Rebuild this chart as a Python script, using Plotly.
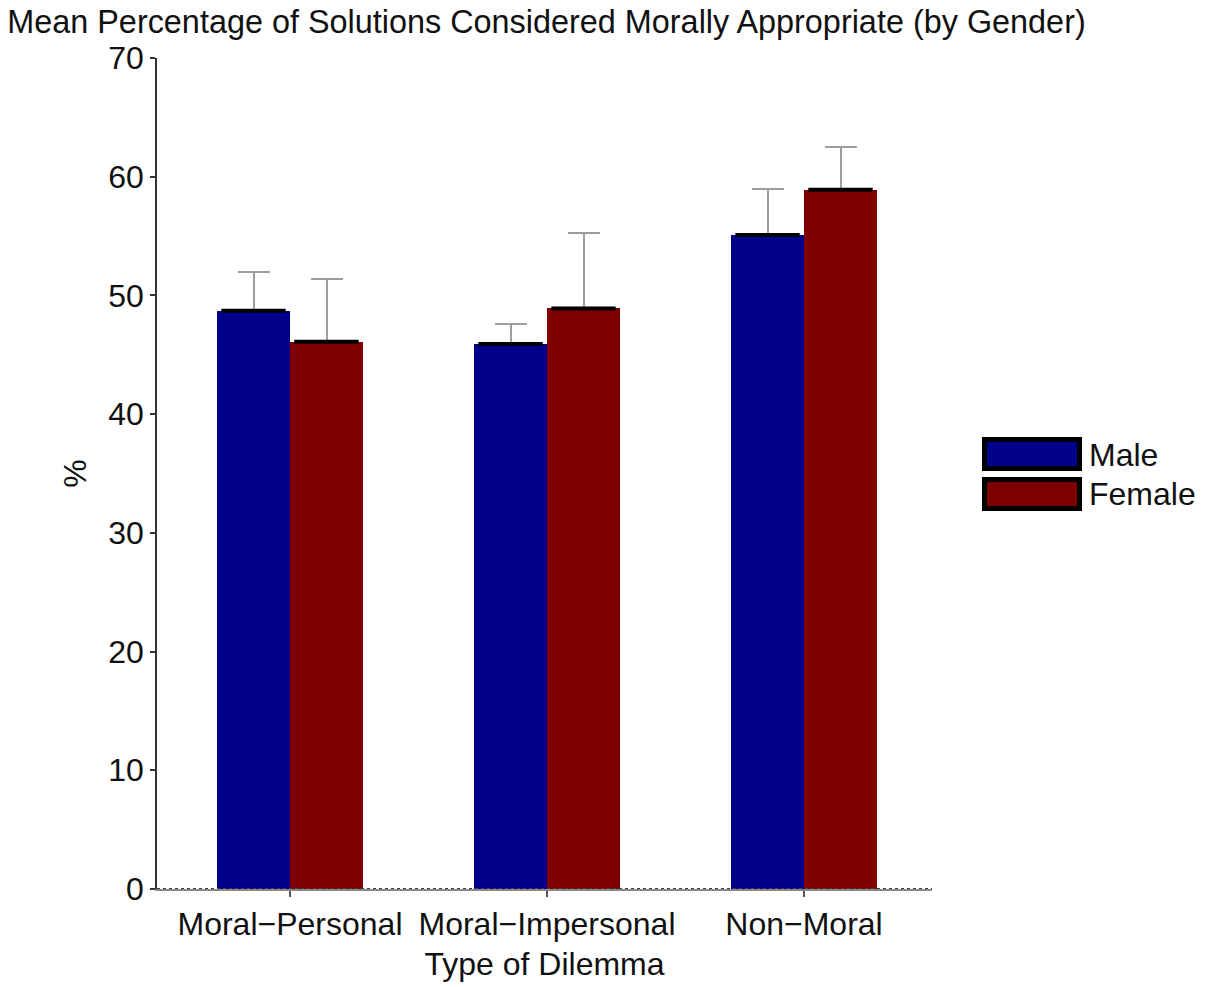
import plotly.graph_objects as go

categories = ["Moral\u2212Personal", "Moral\u2212Impersonal", "Non\u2212Moral"]
male_mean = [48.7, 45.9, 55.1]
female_mean = [46.1, 48.9, 58.9]
male_err = [3.3, 1.7, 3.9]
female_err = [5.3, 6.4, 3.6]
y_ticks = [0, 10, 20, 30, 40, 50, 60, 70]

BLUE = "#00008B"
RED = "#800000"
ERR = "#9e9e9e"
FONT = "Liberation Sans, Arial, sans-serif"
FS = 32

bw = 0.284
idx = list(range(len(categories)))
x_male = [i - bw / 2 for i in idx]
x_female = [i + bw / 2 for i in idx]

fig = go.Figure()
for xs, ys, es, col, name in [
    (x_male, male_mean, male_err, BLUE, "Male"),
    (x_female, female_mean, female_err, RED, "Female"),
]:
    fig.add_trace(go.Bar(
        x=xs, y=ys, width=bw, name=name, marker=dict(color=col, line=dict(width=0)),
        error_y=dict(type="data", symmetric=False, array=es, arrayminus=[0] * len(es),
                     color=ERR, thickness=2, width=16),
        showlegend=False,
    ))
    fig.add_trace(go.Scatter(
        x=xs, y=ys, mode="markers", showlegend=False, hoverinfo="skip",
        marker=dict(symbol="line-ew", size=46, line=dict(color="black", width=4)),
        cliponaxis=False,
    ))

# dotted zero line over the x axis
fig.add_shape(type="line", xref="paper", x0=0, x1=1, yref="y", y0=0, y1=0,
              line=dict(color="#444444", width=2, dash="dot"), layer="above")

# legend (drawn manually to match wide boxed keys)
L, R, T, B, H = 157, 932, 58, 889, 831
W = R - L
def px(x):
    return (x - L) / W
def py(y):
    return (B - y) / H
for (top, bot), col, name, ty in [((439.5, 468.5), BLUE, "Male", 455),
                                   ((479.5, 508.5), RED, "Female", 494)]:
    fig.add_shape(type="rect", xref="paper", yref="paper",
                  x0=px(984.5), x1=px(1079.5), y0=py(bot), y1=py(top),
                  fillcolor=col, line=dict(color="black", width=5))
    fig.add_annotation(xref="paper", yref="paper", x=px(1087), y=py(ty), text=name,
                       showarrow=False, xanchor="left", yanchor="middle",
                       font=dict(family=FONT, size=FS, color="#111111"))

fig.update_layout(
    width=1207, height=987,
    margin=dict(l=L, r=1207 - R, t=T, b=987 - B),
    paper_bgcolor="white", plot_bgcolor="white",
    title=dict(text="Mean Percentage of Solutions Considered Morally Appropriate (by Gender)",
               x=0.006, xanchor="left", y=0.978, yanchor="middle",
               font=dict(family=FONT, size=32.4, color="#111111")),
    font=dict(family=FONT, size=FS, color="#111111"),
    bargap=0,
)
fig.update_xaxes(
    range=[-0.5175, 2.498], tickvals=idx, ticktext=categories,
    showline=True, linecolor="#888888", linewidth=2,
    ticks="outside", ticklen=6, tickcolor="#555555", tickwidth=1.5,
    tickfont=dict(family=FONT, size=FS, color="#111111"),
    title=dict(text="Type of Dilemma", standoff=11, font=dict(family=FONT, size=FS, color="#111111")),
    showgrid=False, zeroline=False, fixedrange=True,
)
fig.update_yaxes(
    range=[0, 70], tickvals=y_ticks,
    showline=True, linecolor="#333333", linewidth=1.5,
    ticks="outside", ticklen=5, tickcolor="#333333", tickwidth=1.5,
    tickfont=dict(family=FONT, size=FS, color="#111111"),
    title=dict(text="%", standoff=12, font=dict(family=FONT, size=FS, color="#111111")),
    showgrid=False, zeroline=False, fixedrange=True,
)

fig.write_html("out.html", config={"displayModeBar": False},
               post_script="document.body.style.margin='0';")
